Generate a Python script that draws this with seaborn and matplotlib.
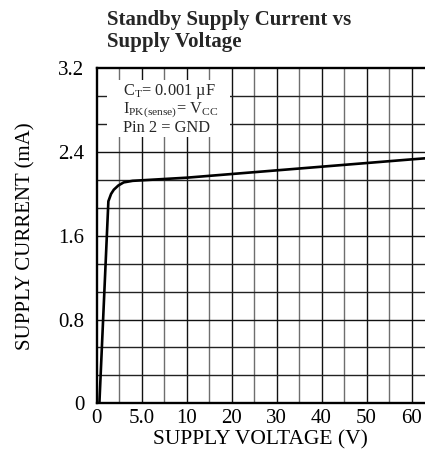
import numpy as np
import pandas as pd
import matplotlib
matplotlib.use("Agg")
import matplotlib.pyplot as plt
from matplotlib.patches import Rectangle
import seaborn as sns

# values
voltage = [0.3, 1.3, 1.6, 1.9, 2.4, 3.0, 4.0, 5.0, 10, 20, 30, 40, 50, 60, 63]
current = [0.0, 1.93, 2.0, 2.04, 2.08, 2.11, 2.125, 2.13, 2.155, 2.19, 2.225, 2.26, 2.295, 2.33, 2.34]

x_ticks = [0, 5, 10, 20, 30, 40, 50, 60]
x_labels = ["0", "5.0", "10", "20", "30", "40", "50", "60"]
x_minor = [2.5, 7.5, 15, 25, 35, 45, 55]
y_ticks = [0, 0.8, 1.6, 2.4, 3.2]
y_labels = ["0", "0.8", "1.6", "2.4", "3.2"]

sns.set_theme(style="white")
plt.rcParams["font.family"] = ["Liberation Serif", "DejaVu Serif"]
plt.rcParams["mathtext.fontset"] = "custom"
plt.rcParams["mathtext.rm"] = "Liberation Serif"
plt.rcParams["mathtext.it"] = "Liberation Serif:italic"


def fwd(v):
    v = np.asarray(v, dtype=float)
    return np.where(v <= 10, v / 5.0, 2 + (v - 10) / 10.0)


def inv(p):
    p = np.asarray(p, dtype=float)
    return np.where(p <= 2, p * 5.0, 10 + (p - 2) * 10.0)


df = pd.DataFrame({"V": voltage, "I": current})

fig = plt.figure(figsize=(4.25, 4.59), dpi=100)
ax = fig.add_axes([0.2275, 0.1214, 1 - 0.2275, 0.8512 - 0.1214])
ax.set_xscale("function", functions=(fwd, inv))
ax.set_xlim(0, 63)
ax.set_ylim(0, 3.2)

# grid: majors dark, in-between lines grey
for v in x_ticks[1:]:
    ax.axvline(v, color="#111111", lw=1.0, zorder=1)
for v in x_minor:
    ax.axvline(v, color="#6e6e6e", lw=1.0, zorder=1)
for k in range(1, 12):
    ax.axhline(k * 0.8 / 3, color="#222222" if k % 3 else "#111111", lw=1.0, zorder=1)

sns.lineplot(data=df, x="V", y="I", ax=ax, color="black", lw=1.9, zorder=3, sort=False)

ax.set_xticks(x_ticks)
ax.set_xticklabels(x_labels)
ax.set_xticks([], minor=True)
ax.set_yticks(y_ticks)
ax.set_yticklabels(y_labels)
ax.tick_params(length=0, labelsize=15, colors="black")
ax.tick_params(axis="y", pad=9)
ax.tick_params(axis="x", pad=4)
ax.set_xlabel("SUPPLY VOLTAGE (V)", fontsize=15.5, color="black", labelpad=2)
ax.set_ylabel("SUPPLY CURRENT (mA)", fontsize=15, color="black", labelpad=16)

for s in ["left", "bottom", "top"]:
    ax.spines[s].set_visible(True)
    ax.spines[s].set_color("black")
    ax.spines[s].set_linewidth(1.7)
ax.spines["right"].set_visible(False)

# white panel behind the condition notes
ax.add_patch(Rectangle((0.031, 0.795), 0.375, 0.17, transform=ax.transAxes,
                       facecolor="white", edgecolor="none", zorder=2))
ax.text(0.08, 0.96,
        "$\\mathregular{C_T}$= 0.001 µF\n"
        "$\\mathregular{I_{PK(sense)}}$= $\\mathregular{V_{CC}}$\n"
        "Pin 2 = GND",
        transform=ax.transAxes, ha="left", va="top", fontsize=11.8,
        linespacing=1.0, zorder=4)

fig.text(0.252, 0.978, "Standby Supply Current vs\nSupply Voltage",
         ha="left", va="top", fontsize=15, fontweight="bold", linespacing=1.1)

fig.savefig("out.png", dpi=100)
